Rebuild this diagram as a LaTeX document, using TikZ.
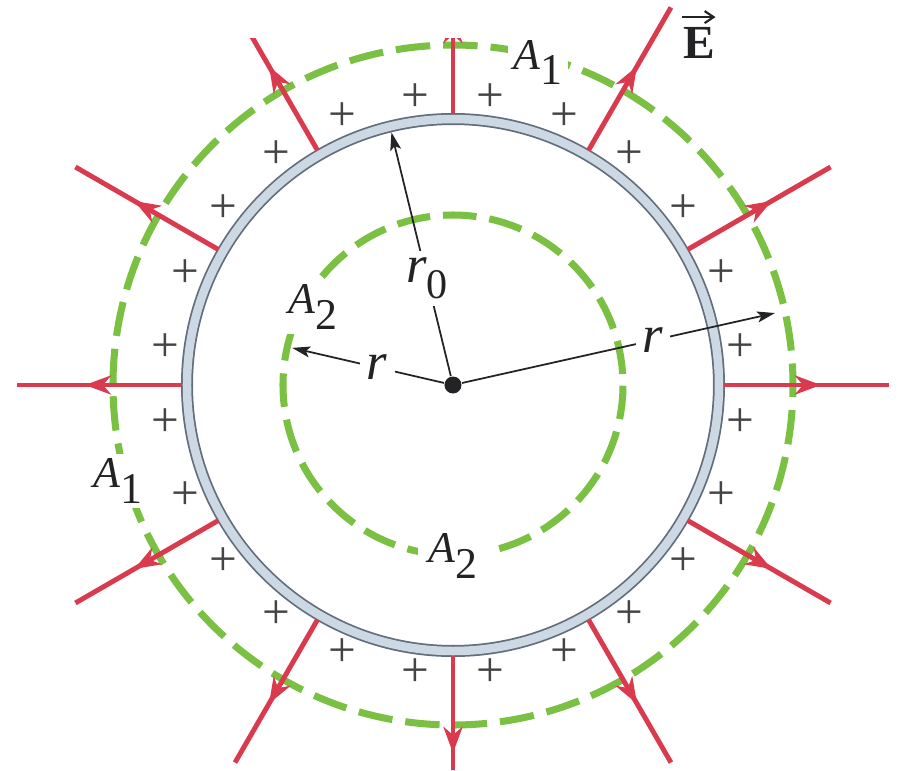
\documentclass[tikz,border=0pt]{standalone}
\usepackage{fontspec}
\setmainfont{Liberation Serif}
\usetikzlibrary{arrows.meta,decorations.markings}
\definecolor{fieldred}{RGB}{218,58,78}
\definecolor{gauss}{RGB}{122,192,66}
\definecolor{shellfill}{RGB}{204,217,228}
\definecolor{shelledge}{RGB}{100,110,122}
\definecolor{ink}{RGB}{35,35,38}
\newcommand{\sublbl}[2]{\textit{#1}\raisebox{-0.35em}{#2}}
\tikzset{
  fieldline/.style={draw=fieldred,line width=1.4pt,postaction={decorate},
    decoration={markings,mark=at position 0.97cm with {\arrow[fieldred]{Stealth[length=2.6mm,width=1.9mm,inset=0.8mm]}}}},
  gaussian/.style 2 args={draw=gauss,line width=2pt,dash pattern=on #1 off 0.13cm,dash phase=#2},
  shell/.style={draw=shelledge,line width=0.5pt,double=shellfill,double distance=0.085cm},
  charge/.style={font=\fontsize{14}{16}\selectfont,text=ink!85,inner sep=0pt},
  radiusarrow/.style={->,>={Stealth[length=1.8mm,width=1.1mm,inset=0.4mm]},draw=ink,line width=0.5pt},
  lbl/.style={font=\fontsize{12.5}{15}\selectfont,text=ink,fill=white,inner sep=1.5pt},
  rlbl/.style={font=\fontsize{15}{18}\selectfont,text=ink,fill=white,inner sep=2pt},
}

\begin{document}
\begin{tikzpicture}
  \useasboundingbox (-4.53,-3.85) rectangle (4.47,3.85);
  % shell and gaussian surfaces
  \draw[shell] (0,0) circle (2.66);
  \draw[gaussian={0.345cm}{0.13cm}] (0,0) circle (3.40);
  \draw[gaussian={0.335cm}{0.355cm}] (0,0) circle (1.70);
  % field lines
  \begin{scope}
    \clip (-4.53,-3.85) -- (4.47,-3.85) -- (4.47,3.85) -- (1.5,3.85) -- (1.5,3.47) -- (-4.53,3.47) -- cycle;
    \foreach \a in {0,30,...,330}{
      \coordinate (s\a) at (\a:2.71);
      \coordinate (e\a) at (\a:4.36);
      \draw[fieldline] (s\a) -- (e\a);
    }
  \end{scope}
  % charges
  \foreach \k in {0,...,23}
    \node[charge] (q\k) at ({7.5+15*\k}:2.90) {+};
  % radii
  \node[circle,fill=ink,inner sep=0pt,minimum size=0.17cm] (c) at (0,0) {};
  \coordinate (r0tip) at (103.7:2.60);
  \coordinate (rin) at (167:1.65);
  \coordinate (rout) at (12.6:3.30);
  \draw[radiusarrow] (c) -- node[rlbl,pos=0.40] (r0lab) {\textit{r}\raisebox{-4.5pt}{\fontsize{12}{14}\selectfont 0}} (r0tip);
  \draw[radiusarrow] (c) -- node[rlbl,pos=0.44] (rinlab) {\textit{r}} (rin);
  \draw[radiusarrow] (c) -- node[rlbl,pos=0.61] (routlab) {\textit{r}} (rout);
  % labels
  \node[lbl] (a1top) at (0.85,3.225) {\sublbl{A}{1}};
  \node[lbl] (a1left) at (-3.35,-0.96) {\sublbl{A}{1}};
  \node[lbl] (a2left) at (-1.40,0.78) {\sublbl{A}{2}};
  \node[lbl,inner sep=3pt] (a2bot) at (0,-1.71) {\sublbl{A}{2}};
  \node[font=\fontsize{13.5}{16}\selectfont\bfseries,text=ink,anchor=base,inner sep=0pt] (efield) at (2.46,3.27) {E};
  \draw[ink,line width=0.6pt,-{Straight Barb[length=0.9mm,width=1.2mm]}]
    ([yshift=2.6pt]efield.north west) -- ([yshift=2.6pt]efield.north east);
\end{tikzpicture}
\end{document}
